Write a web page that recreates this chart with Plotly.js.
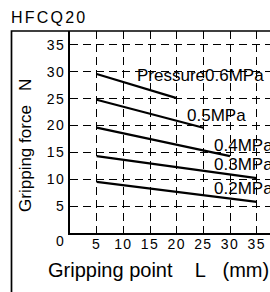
<!DOCTYPE html>
<html><head><meta charset="utf-8">
<script src="https://cdn.plot.ly/plotly-3.0.1.min.js"></script>
<style>
html,body{margin:0;padding:0;background:#fff}
#chart{width:270px;height:292px}
.gtitle{letter-spacing:2.2px}
.xtick text,.ytick text{letter-spacing:1.4px}
</style></head><body><div id="chart"></div>
<script>
const labels = ['Pressure0.6MPa','0.5MPa','0.4MPa','0.3MPa','0.2MPa'];
const lineX = [[5,20],[5,25],[5,30],[5,35],[5,35]];
const lineY = [[29.6,25.1],[24.8,19.6],[19.6,14.3],[14.3,10.2],[9.5,5.8]];
const labelX = [12.6,21.9,27.0,27.0,27.0];
const labelY = [29.4,21.8,16.3,12.75,8.2];
const tickVals = [5,10,15,20,25,30,35];
const tickText = ['5','10','15','20','25','30','35'];
const xTitle = 'Gripping point\u00a0\u00a0\u00a0\u00a0L\u00a0\u00a0\u00a0(mm)';
const yTitle = 'Gripping force\u00a0\u00a0\u00a0N';

const FONT = 'Liberation Sans, Arial, sans-serif';

const traces = labels.map((lab,i)=>({
  type:'scatter', mode:'lines', x:lineX[i], y:lineY[i],
  line:{color:'#000', width:2.2}, name:lab, hoverinfo:'skip'
}));

const annotations = labels.map((lab,i)=>({
  x:labelX[i], y:labelY[i], xref:'x', yref:'y', text:lab, showarrow:false,
  xanchor:'left', yanchor:'middle', borderpad:0, borderwidth:0,
  font:{family:FONT, size:17, color:'#000'}
}));
annotations.push({x:-0.05, y:-0.04, xref:'paper', yref:'paper', text:'0', showarrow:false,
  xanchor:'center', yanchor:'middle', font:{family:FONT, size:14, color:'#000'}});
// axis titles placed as annotations (offset from the axis centre as in the reference)
annotations.push({x:0.44, y:-0.183, xref:'paper', yref:'paper', text:xTitle, showarrow:false,
  xanchor:'center', yanchor:'middle', borderpad:0, font:{family:FONT, size:20, color:'#000'}});
annotations.push({x:-0.22, y:0.431, xref:'paper', yref:'paper', text:yTitle, showarrow:false,
  textangle:-90, xanchor:'center', yanchor:'middle', borderpad:0, font:{family:FONT, size:17, color:'#000'}});

const axisCommon = {
  showline:true, linecolor:'#000', linewidth:2, zeroline:false,
  showgrid:true, gridcolor:'#000', gridwidth:1, griddash:'8px,5px',
  ticks:'', tickmode:'array', tickvals:tickVals, ticktext:tickText,
  tickfont:{family:FONT, size:14, color:'#000'}, fixedrange:true
};

const layout = {
  width:270, height:292,
  margin:{l:70, r:0, t:31, b:59, pad:0},
  paper_bgcolor:'#fff', plot_bgcolor:'#fff',
  showlegend:false,
  title:{text:'HFCQ20', xref:'container', yref:'container', x:0.041, xanchor:'left',
    y:1-17/292, yanchor:'middle', font:{family:FONT, size:16, color:'#000'}},
  xaxis:Object.assign({}, axisCommon, {range:[0,37.5], ticklabelstandoff:-3}),
  yaxis:Object.assign({}, axisCommon, {range:[0,37.6]}),
  annotations:annotations,
  shapes:[{type:'path', xref:'paper', yref:'paper', path:'M -0.2925,-0.5 L -0.2925,1 L 1.2,1',
    line:{color:'#000', width:1.7}, layer:'above'}]
};

Plotly.newPlot('chart', traces, layout, {staticPlot:true, displayModeBar:false});
</script></body></html>
